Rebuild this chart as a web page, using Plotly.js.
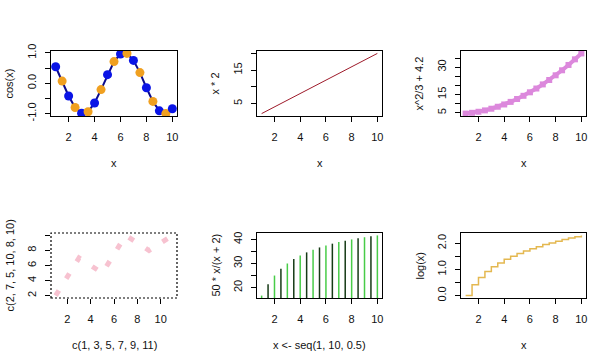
<!DOCTYPE html>
<html><head><meta charset="utf-8">
<script src="https://cdn.plot.ly/plotly-3.0.1.min.js"></script>
<style>html,body{margin:0;padding:0;background:#fff}#plot{width:613px;height:363px}</style>
</head><body><div id="plot"></div>
<script>
// ---- data ----
const xs = [1,1.5,2,2.5,3,3.5,4,4.5,5,5.5,6,6.5,7,7.5,8,8.5,9,9.5,10];
const cosY = [0.54,0.07,-0.42,-0.80,-0.99,-0.94,-0.65,-0.21,0.28,0.71,0.96,0.98,0.75,0.35,-0.15,-0.60,-0.91,-1.00,-0.84];
const twiceY = [2,3,4,5,6,7,8,9,10,11,12,13,14,15,16,17,18,19,20];
const quadY = [4.53,4.95,5.53,6.28,7.20,8.28,9.53,10.95,12.53,14.28,16.20,18.28,20.53,22.95,25.53,28.28,31.20,34.28,37.53];
const p4x = [1,3,5,7,9,11];
const p4y = [2,7,5,10,8,10];
const ratioY = [16.67,21.43,25.00,27.78,30.00,31.82,33.33,34.62,35.71,36.67,37.50,38.24,38.89,39.47,40.00,40.48,40.91,41.30,41.67];
const logY = [0,0.41,0.69,0.92,1.10,1.25,1.39,1.50,1.61,1.70,1.79,1.87,1.95,2.01,2.08,2.14,2.20,2.25,2.30];
const xTicks = [2,4,6,8,10];
const xTitles = ['x','x','x','c(1, 3, 5, 7, 9, 11)','x <- seq(1, 10, 0.5)','x'];
const yTitles = ['cos(x)','x * 2','x^2/3 + 4.2','c(2, 7, 5, 10, 8, 10)','50 * x/(x + 2)','log(x)'];
const yTickVals = [[-1,-0.5,0,0.5,1],[5,10,15,20],[5,10,15,20,25,30,35],[2,4,6,8,10],[20,25,30,35,40],[0,0.5,1,1.5,2]];
const yTickText = [['-1.0','','0.0','','1.0'],['5','','15',''],['5','','15','','','30',''],['2','4','6','8',''],['20','','30','','40'],['0.0','','1.0','','2.0']];

// ---- helpers ----
function rng(a){const mn=Math.min(...a),mx=Math.max(...a),e=(mx-mn)*0.04;return [mn-e,mx+e];}
const W=613,H=363;
const cols=[[51,177],[257,382],[461,586]];
const rows=[[51,116],[233,298]];
const FONT='Liberation Sans, Arial, sans-serif';

const data=[];
// panel 1
data.push({x:xs,y:cosY,xaxis:'x',yaxis:'y',mode:'lines+markers',
  line:{color:'#0a0a8c',width:2},
  marker:{size:9,color:xs.map((v,i)=>i%2===0?'#0a14e6':'#f0a020')},hoverinfo:'none'});
// panel 2
data.push({x:xs,y:twiceY,xaxis:'x2',yaxis:'y2',mode:'lines',line:{color:'#9e1a2a',width:1},hoverinfo:'none'});
// panel 3
data.push({x:xs,y:quadY,xaxis:'x3',yaxis:'y3',mode:'lines+markers',line:{color:'#dc88dc',width:4},
  marker:{symbol:'square',size:6,color:'#dc88dc'},hoverinfo:'none'});
// panel 4
data.push({x:p4x,y:p4y,xaxis:'x4',yaxis:'y4',mode:'lines',line:{color:'#f7c2d0',width:5,dash:'6px,14px'},hoverinfo:'none'});
// panel 5 (type "h")
function hlines(keep){const X=[],Y=[];xs.forEach((v,i)=>{if(keep(i)){X.push(v,v,null);Y.push(0,ratioY[i],null);}});return {X,Y};}
const h1=hlines(i=>i%2===0), h2=hlines(i=>i%2===1);
data.push({x:h1.X,y:h1.Y,xaxis:'x5',yaxis:'y5',mode:'lines',line:{color:'#48cc48',width:1.5},hoverinfo:'none'});
data.push({x:h2.X,y:h2.Y,xaxis:'x5',yaxis:'y5',mode:'lines',line:{color:'#163a16',width:1.5},hoverinfo:'none'});
// panel 6
data.push({x:xs,y:logY,xaxis:'x6',yaxis:'y6',mode:'lines',line:{color:'#e4b850',width:1.5,shape:'hv'},hoverinfo:'none'});

const xData=[xs,xs,xs,p4x,xs,xs];
const yData=[cosY,twiceY,quadY,p4y,ratioY,logY];

const layout={width:W,height:H,margin:{l:0,r:0,t:0,b:0},showlegend:false,
  paper_bgcolor:'#fff',plot_bgcolor:'#fff',font:{family:FONT,size:11,color:'#111'},
  annotations:[],shapes:[]};
for(let k=0;k<6;k++){
  const c=cols[k%3], r=rows[Math.floor(k/3)];
  const sx=k===0?'':String(k+1);
  const xd=[c[0]/W,c[1]/W], yd=[1-r[1]/H,1-r[0]/H];
  const boxed=k!==3;
  layout['xaxis'+sx]={domain:xd,range:rng(xData[k]),anchor:'y'+sx,tickvals:xTicks,ticks:'outside',ticklen:5,
    tickcolor:'#000',showgrid:false,zeroline:false,showline:boxed,mirror:boxed,linecolor:'#000',linewidth:1,
    ticklabelstandoff:6,tickfont:{size:11,family:FONT,color:'#111'},fixedrange:true};
  layout['yaxis'+sx]={domain:yd,range:rng(yData[k]),anchor:'x'+sx,tickvals:yTickVals[k],ticktext:yTickText[k],
    ticks:'outside',ticklen:5,tickcolor:'#000',tickangle:-90,showgrid:false,zeroline:false,showline:boxed,mirror:boxed,
    linecolor:'#000',linewidth:1,ticklabelstandoff:5,tickfont:{size:11,family:FONT,color:'#111'},fixedrange:true};
  layout.annotations.push({text:xTitles[k],xref:'paper',yref:'paper',x:(xd[0]+xd[1])/2,y:yd[0],
    xanchor:'center',yanchor:'middle',yshift:-47,showarrow:false,font:{size:11,family:FONT,color:'#111'}});
  layout.annotations.push({text:yTitles[k],xref:'paper',yref:'paper',x:xd[0],y:(yd[0]+yd[1])/2,
    xanchor:'center',yanchor:'middle',xshift:-42,textangle:-90,showarrow:false,font:{size:11,family:FONT,color:'#111'}});
}
layout.shapes.push({type:'rect',xref:'x4 domain',yref:'y4 domain',x0:0,x1:1,y0:0,y1:1,
  line:{color:'#000',width:1.2,dash:'2px,2px'}});
Plotly.newPlot('plot',data,layout,{staticPlot:true,displayModeBar:false});
</script></body></html>
